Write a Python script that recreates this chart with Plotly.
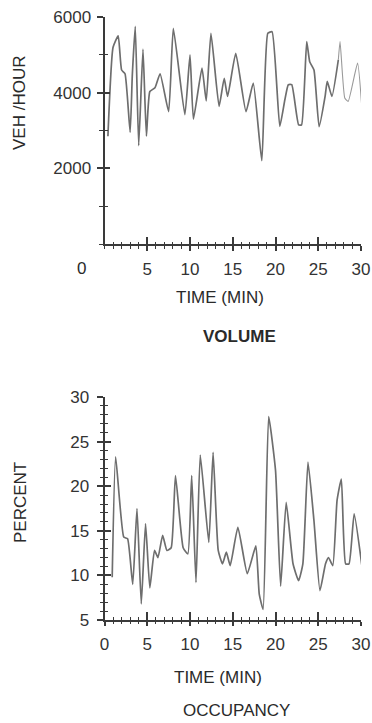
import plotly.graph_objects as go

# ---- data ----
vol_time = [0.4, 1.0, 1.6, 2.0, 2.4, 3.0, 3.25, 3.6, 4.0, 4.5, 4.9, 5.3, 5.9, 6.5, 7.5, 8.05,
            9.4, 10.0, 10.4, 11.4, 11.9, 12.45, 13.4, 14.0, 14.4, 15.35, 16.55, 17.4, 18.4,
            19.1, 19.6, 20.5, 21.1, 21.5, 21.9, 22.7, 23.05, 23.65, 24.0, 24.5, 25.1, 25.8,
            26.05, 26.6, 27.35]
vol_vals = [2850, 5200, 5500, 4600, 4500, 2950, 4450, 5750, 2600, 5150, 2850, 4030, 4130, 4500,
            3500, 5700, 3420, 5000, 3300, 4650, 3780, 5570, 3640, 4380, 3900, 5040, 3500, 4250,
            2200, 5570, 5610, 3110, 3820, 4210, 4210, 3150, 3150, 5350, 4820, 4600, 3100, 3900,
            4300, 3900, 4870]
vol_tail_time = [27.35, 27.55, 28.1, 28.5, 29.6, 30.1]
vol_tail_vals = [4870, 5350, 3860, 3770, 4780, 3600]

occ_time = [0.9, 1.3, 2.25, 2.7, 3.3, 3.8, 4.3, 4.8, 5.3, 5.85, 6.25, 6.8, 7.3, 7.8, 8.3, 9.2,
            9.75, 10.2, 10.7, 11.2, 12.2, 12.7, 13.3, 13.8, 14.25, 14.7, 15.6, 16.7, 17.7, 18.1,
            18.55, 19.2, 20.0, 20.6, 21.25, 22.05, 22.7, 23.2, 23.8, 24.5, 25.2, 25.85, 26.2,
            26.7, 27.2, 27.7, 28.2, 28.6, 29.2, 30.1]
occ_vals = [9.8, 23.3, 14.3, 14.1, 9.0, 17.5, 6.8, 15.8, 8.6, 12.8, 12.0, 14.5, 12.8, 13.1, 21.2,
            13.1, 12.4, 21.2, 9.2, 23.5, 13.7, 23.8, 12.8, 11.3, 12.6, 11.1, 15.4, 10.2, 13.3,
            7.9, 6.2, 27.8, 21.8, 8.8, 18.2, 11.3, 9.4, 11.3, 22.7, 16.1, 8.3, 11.3, 12.0, 11.1,
            18.4, 20.8, 11.3, 11.3, 16.9, 11.1]

x_ticks_top = [5, 10, 15, 20, 25, 30]
x_ticks_bottom = [0, 5, 10, 15, 20, 25, 30]
vol_ticks = [2000, 4000, 6000]
occ_ticks = [5, 10, 15, 20, 25, 30]

W, H = 372, 723
FONT = "Liberation Sans, Arial, sans-serif"
AX = "#3a3a3a"
LINE = "#6e6e6e"

def px_x(p):
    return p / W

def px_y(p):
    return 1 - p / H

xdom = [px_x(104.5), px_x(361)]
ydom_top = [px_y(244), px_y(17)]
ydom_bot = [px_y(620), px_y(397)]

fig = go.Figure()

SPL = 0.45
fig.add_trace(go.Scatter(x=vol_time, y=vol_vals, mode="lines", xaxis="x", yaxis="y",
                         line=dict(color=LINE, width=1.7, shape="spline", smoothing=SPL),
                         showlegend=False, hoverinfo="skip"))
fig.add_trace(go.Scatter(x=vol_tail_time, y=vol_tail_vals, mode="lines", xaxis="x", yaxis="y",
                         line=dict(color="#9a9a9a", width=1.1, shape="spline", smoothing=SPL),
                         showlegend=False, hoverinfo="skip"))
fig.add_trace(go.Scatter(x=occ_time, y=occ_vals, mode="lines", xaxis="x2", yaxis="y2",
                         line=dict(color=LINE, width=1.7, shape="spline", smoothing=SPL),
                         showlegend=False, hoverinfo="skip"))
# invisible traces to activate the overlay axes (used for crossing tick marks)
fig.add_trace(go.Scatter(x=[None], y=[None], xaxis="x3", yaxis="y3", showlegend=False))
fig.add_trace(go.Scatter(x=[None], y=[None], xaxis="x4", yaxis="y4", showlegend=False))

tickfont = dict(family=FONT, size=17, color="#333")

common_x = dict(range=[0, 30], domain=xdom, showgrid=False, zeroline=False, automargin=False,
                showline=True, linecolor=AX, linewidth=2, tickcolor=AX, tickwidth=1.5)
common_y = dict(showgrid=False, zeroline=False, showline=True, linecolor=AX, linewidth=2,
                tickcolor=AX, tickwidth=1.5, automargin=False)

fig.update_layout(
    width=W, height=H, margin=dict(l=0, r=0, t=0, b=0, pad=0),
    paper_bgcolor="white", plot_bgcolor="white",
    xaxis=dict(**common_x, anchor="y", tickvals=x_ticks_top, ticks="outside", ticklen=5,
               tickfont=tickfont, ticklabelstandoff=4,
               minor=dict(dtick=1, tick0=0, ticks="outside", ticklen=3, tickcolor=AX, tickwidth=1.2)),
    yaxis=dict(**common_y, anchor="x", domain=ydom_top, range=[0, 6000], tickvals=vol_ticks,
               ticks="outside", ticklen=6, tickfont=tickfont, ticklabelstandoff=2,
               minor=dict(dtick=1000, tick0=0, ticks="outside", ticklen=4, tickcolor=AX, tickwidth=1.2)),
    xaxis3=dict(range=[0, 30], overlaying="x", anchor="y", side="bottom", showgrid=False,
                zeroline=False, showticklabels=False, tickvals=[0] + x_ticks_top, ticks="inside",
                ticklen=7, tickcolor=AX, tickwidth=1.5, automargin=False,
                minor=dict(dtick=1, tick0=0, ticks="inside", ticklen=2, tickcolor=AX, tickwidth=1.2)),
    yaxis3=dict(range=[0, 6000], overlaying="y", anchor="x", side="left", showgrid=False,
                zeroline=False, showticklabels=False, tickvals=vol_ticks, ticks="inside",
                ticklen=5, tickcolor=AX, tickwidth=1.5, automargin=False,
                minor=dict(dtick=1000, tick0=0, ticks="inside", ticklen=3, tickcolor=AX, tickwidth=1.2)),

    xaxis2=dict(**common_x, anchor="y2", tickvals=x_ticks_bottom, ticks="outside", ticklen=4,
                tickfont=tickfont, ticklabelstandoff=4,
                minor=dict(dtick=1, tick0=0, ticks="outside", ticklen=2, tickcolor=AX, tickwidth=1.2)),
    yaxis2=dict(**common_y, anchor="x2", domain=ydom_bot, range=[5, 30], tickvals=occ_ticks,
                ticks="outside", ticklen=6, tickfont=tickfont, ticklabelstandoff=4,
                minor=dict(dtick=1, tick0=5, ticks="outside", ticklen=3, tickcolor=AX, tickwidth=1.1)),
    xaxis4=dict(range=[0, 30], overlaying="x2", anchor="y2", side="bottom", showgrid=False,
                zeroline=False, showticklabels=False, tickvals=x_ticks_bottom, ticks="inside",
                ticklen=8, tickcolor=AX, tickwidth=1.5, automargin=False,
                minor=dict(dtick=1, tick0=0, ticks="inside", ticklen=3, tickcolor=AX, tickwidth=1.2)),
    yaxis4=dict(range=[5, 30], overlaying="y2", anchor="x2", side="left", showgrid=False,
                zeroline=False, showticklabels=False, tickvals=occ_ticks, ticks="inside",
                ticklen=6, tickcolor=AX, tickwidth=1.5, automargin=False,
                minor=dict(dtick=1, tick0=5, ticks="inside", ticklen=3, tickcolor=AX, tickwidth=1.1)),
)

def ann(text, x, y, size=17, angle=0, bold=False):
    fig.add_annotation(text=f"<b>{text}</b>" if bold else text, x=px_x(x), y=px_y(y),
                       xref="paper", yref="paper", showarrow=False, textangle=angle,
                       font=dict(family=FONT, size=size, color="#2a2a2a"),
                       xanchor="center", yanchor="middle")

ann("0", 81, 268)
ann("VEH /HOUR", 20, 103, angle=-90)
ann("TIME (MIN)", 220, 297)
ann("VOLUME", 239, 336, bold=True)
ann("PERCENT", 20, 503, angle=-90)
ann("TIME (MIN)", 218, 677)
ann("OCCUPANCY", 236, 710, size=17)

fig.write_html("out.html", config={"displayModeBar": False},
               post_script="document.body.style.margin='0';document.body.style.overflow='hidden';")
